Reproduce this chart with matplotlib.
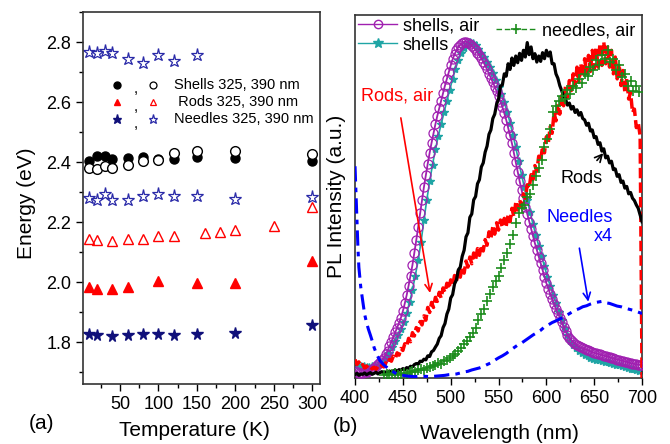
import numpy as np
import matplotlib.pyplot as plt
from matplotlib.ticker import MultipleLocator
from matplotlib.lines import Line2D

plt.rcParams['font.family'] = ['Liberation Sans', 'DejaVu Sans']

# ---------------- (a) PL peak energy vs temperature ----------------
T_shells = [10, 20, 30, 40, 60, 80, 100, 120, 150, 200, 300]
shells_325 = [2.403, 2.420, 2.420, 2.410, 2.413, 2.417, 2.410, 2.410, 2.416, 2.413, 2.405]
shells_390 = [2.381, 2.376, 2.387, 2.381, 2.389, 2.403, 2.407, 2.431, 2.437, 2.437, 2.428]

T_rods_325 = [10, 20, 40, 60, 100, 150, 200, 300]
rods_325 = [1.982, 1.978, 1.978, 1.982, 2.002, 1.996, 1.996, 2.071]
T_rods_390 = [10, 20, 40, 60, 80, 100, 120, 160, 180, 200, 250, 300]
rods_390 = [2.145, 2.141, 2.138, 2.145, 2.145, 2.155, 2.152, 2.164, 2.167, 2.175, 2.186, 2.249]

T_needles_325 = [10, 20, 40, 60, 80, 100, 120, 150, 200, 300]
needles_325 = [1.827, 1.824, 1.820, 1.822, 1.827, 1.826, 1.822, 1.826, 1.831, 1.858]
T_needles_390_hi = [10, 20, 30, 40, 60, 80, 100, 120, 150]
needles_390_hi = [2.766, 2.763, 2.770, 2.763, 2.743, 2.730, 2.756, 2.737, 2.756]
T_needles_390_lo = [10, 20, 30, 40, 60, 80, 100, 120, 150, 200, 300]
needles_390_lo = [2.281, 2.275, 2.294, 2.272, 2.272, 2.287, 2.292, 2.287, 2.287, 2.278, 2.283]

# ---------------- (b) PL spectra ----------------
# shells, air (every 2 nm, 400-700)
wl_2nm = np.arange(400, 701, 2)
shells_air = [
    0.020, 0.018, 0.015, 0.014, 0.015, 0.017, 0.019, 0.022, 0.025, 0.028,
    0.031, 0.036, 0.041, 0.047, 0.053, 0.060, 0.070, 0.081, 0.094, 0.108,
    0.122, 0.136, 0.150, 0.164, 0.180, 0.199, 0.222, 0.247, 0.275, 0.305,
    0.336, 0.372, 0.410, 0.450, 0.490, 0.530, 0.568, 0.604, 0.638, 0.670,
    0.700, 0.728, 0.755, 0.780, 0.802, 0.825, 0.848, 0.870, 0.890, 0.910,
    0.930, 0.948, 0.963, 0.975, 0.985, 0.992, 0.997, 1.000, 1.000, 0.998,
    0.994, 0.989, 0.983, 0.976, 0.968, 0.960, 0.951, 0.941, 0.930, 0.918,
    0.905, 0.893, 0.880, 0.867, 0.853, 0.838, 0.822, 0.806, 0.788, 0.768,
    0.745, 0.722, 0.698, 0.670, 0.642, 0.613, 0.586, 0.560, 0.535, 0.510,
    0.488, 0.465, 0.443, 0.422, 0.401, 0.381, 0.361, 0.341, 0.321, 0.301,
    0.282, 0.266, 0.250, 0.235, 0.220, 0.206, 0.194, 0.180, 0.166, 0.152,
    0.139, 0.128, 0.120, 0.113, 0.107, 0.102, 0.098, 0.094, 0.091, 0.089,
    0.086, 0.084, 0.082, 0.079, 0.077, 0.075, 0.073, 0.072, 0.070, 0.068,
    0.067, 0.065, 0.064, 0.062, 0.060, 0.059, 0.057, 0.055, 0.054, 0.052,
    0.051, 0.049, 0.048, 0.046, 0.044, 0.043, 0.042, 0.041, 0.040, 0.039,
    0.038]

# shells (every 3 nm, 400-700)
wl_3nm = np.arange(400, 701, 3)
shells = [
    0.040, 0.038, 0.036, 0.035, 0.034, 0.034, 0.035, 0.036, 0.040, 0.045,
    0.052, 0.062, 0.075, 0.092, 0.110, 0.128, 0.146, 0.166, 0.192, 0.225,
    0.262, 0.305, 0.350, 0.405, 0.470, 0.530, 0.585, 0.635, 0.680, 0.720,
    0.755, 0.790, 0.825, 0.858, 0.890, 0.920, 0.945, 0.966, 0.982, 0.993,
    0.999, 0.997, 0.990, 0.980, 0.968, 0.955, 0.940, 0.924, 0.907, 0.888,
    0.867, 0.845, 0.820, 0.792, 0.760, 0.724, 0.686, 0.645, 0.605, 0.567,
    0.530, 0.493, 0.458, 0.425, 0.393, 0.362, 0.332, 0.302, 0.274, 0.248,
    0.222, 0.197, 0.172, 0.150, 0.128, 0.110, 0.097, 0.088, 0.080, 0.074,
    0.069, 0.065, 0.061, 0.058, 0.055, 0.053, 0.051, 0.049, 0.047, 0.045,
    0.042, 0.040, 0.038, 0.035, 0.033, 0.031, 0.028, 0.026, 0.024, 0.022,
    0.021]

# rods (every 2 nm, 400-700)
rods = [
    0.010, 0.014, 0.008, 0.012, 0.011, 0.015, 0.010, 0.013, 0.016, 0.011,
    0.014, 0.017, 0.012, 0.016, 0.019, 0.014, 0.018, 0.016, 0.021, 0.017,
    0.020, 0.024, 0.019, 0.025, 0.023, 0.028, 0.025, 0.031, 0.029, 0.035,
    0.033, 0.040, 0.043, 0.041, 0.050, 0.049, 0.056, 0.054, 0.066, 0.064,
    0.078, 0.082, 0.092, 0.101, 0.118, 0.126, 0.150, 0.162, 0.190, 0.205,
    0.238, 0.248, 0.280, 0.292, 0.322, 0.330, 0.362, 0.380, 0.420, 0.432,
    0.478, 0.488, 0.530, 0.540, 0.578, 0.590, 0.628, 0.640, 0.672, 0.690,
    0.725, 0.738, 0.772, 0.785, 0.815, 0.830, 0.868, 0.872, 0.905, 0.898,
    0.935, 0.918, 0.952, 0.930, 0.958, 0.938, 0.966, 0.945, 0.975, 0.955,
    0.998, 0.962, 0.985, 0.950, 0.965, 0.940, 0.958, 0.942, 0.968, 0.950,
    0.975, 0.958, 0.970, 0.935, 0.935, 0.905, 0.892, 0.870, 0.855, 0.838,
    0.830, 0.812, 0.818, 0.800, 0.808, 0.790, 0.798, 0.782, 0.790, 0.772,
    0.768, 0.752, 0.758, 0.735, 0.738, 0.715, 0.718, 0.695, 0.700, 0.675,
    0.682, 0.655, 0.660, 0.640, 0.645, 0.620, 0.622, 0.600, 0.605, 0.582,
    0.586, 0.565, 0.570, 0.548, 0.552, 0.535, 0.528, 0.515, 0.505, 0.485,
    0.465]

# rods, air (every 2 nm, 400-700)
rods_air = [
    0.055, 0.040, 0.048, 0.035, 0.040, 0.030, 0.036, 0.028, 0.033, 0.027,
    0.032, 0.026, 0.034, 0.030, 0.038, 0.033, 0.045, 0.040, 0.055, 0.050,
    0.065, 0.058, 0.075, 0.068, 0.088, 0.082, 0.102, 0.095, 0.118, 0.108,
    0.135, 0.125, 0.150, 0.140, 0.168, 0.158, 0.185, 0.172, 0.210, 0.195,
    0.225, 0.210, 0.240, 0.228, 0.255, 0.238, 0.268, 0.255, 0.282, 0.265,
    0.292, 0.275, 0.305, 0.288, 0.318, 0.300, 0.330, 0.312, 0.348, 0.330,
    0.360, 0.340, 0.372, 0.352, 0.385, 0.365, 0.395, 0.378, 0.412, 0.395,
    0.435, 0.415, 0.450, 0.428, 0.462, 0.440, 0.470, 0.448, 0.475, 0.452,
    0.485, 0.465, 0.505, 0.480, 0.522, 0.500, 0.530, 0.512, 0.548, 0.535,
    0.575, 0.565, 0.605, 0.590, 0.632, 0.615, 0.660, 0.645, 0.690, 0.670,
    0.718, 0.700, 0.748, 0.728, 0.790, 0.765, 0.815, 0.785, 0.840, 0.810,
    0.868, 0.835, 0.885, 0.855, 0.905, 0.870, 0.925, 0.880, 0.935, 0.895,
    0.950, 0.905, 0.960, 0.912, 0.975, 0.920, 0.985, 0.925, 0.995, 0.930,
    1.000, 0.935, 0.990, 0.925, 0.975, 0.905, 0.955, 0.890, 0.935, 0.870,
    0.915, 0.850, 0.890, 0.830, 0.850, 0.790, 0.800, 0.745, 0.760, 0.720,
    0.000]

# needles, air (every 3 nm, 430-697)
wl_needles_air = np.arange(430, 698, 3)
needles_air = [
    0.008, 0.012, 0.009, 0.011, 0.014, 0.010, 0.013, 0.016, 0.013, 0.018,
    0.020, 0.017, 0.023, 0.026, 0.024, 0.030, 0.033, 0.036, 0.040, 0.044,
    0.042, 0.050, 0.055, 0.060, 0.066, 0.072, 0.080, 0.090, 0.100, 0.110,
    0.122, 0.135, 0.150, 0.172, 0.190, 0.205, 0.228, 0.250, 0.272, 0.290,
    0.305, 0.328, 0.350, 0.372, 0.400, 0.425, 0.460, 0.490, 0.505, 0.515,
    0.540, 0.548, 0.575, 0.600, 0.625, 0.650, 0.688, 0.712, 0.740, 0.790,
    0.810, 0.825, 0.840, 0.830, 0.858, 0.845, 0.870, 0.862, 0.890, 0.878,
    0.905, 0.898, 0.925, 0.915, 0.945, 0.930, 0.962, 0.950, 0.975, 0.940,
    0.950, 0.915, 0.930, 0.895, 0.905, 0.870, 0.885, 0.855, 0.870, 0.850]

# needles x4
wl_needles = [400, 401, 402, 403, 404, 406, 408, 410, 412, 414, 416, 418, 420, 423,
              426, 430, 434, 438, 442, 446, 450, 454, 458, 462, 466, 470, 474, 478,
              482, 486, 490, 494, 498, 502, 506, 510, 514, 518, 522, 526, 530, 534,
              538, 542, 546, 550, 554, 558, 562, 566, 570, 574, 578, 582, 586, 590,
              594, 598, 602, 606, 610, 614, 618, 622, 626, 630, 634, 638, 642, 646,
              650, 654, 658, 662, 666, 670, 674, 678, 682, 686, 690, 694, 698, 700]
needles_x4 = [0.630, 0.550, 0.470, 0.390, 0.330, 0.270, 0.230, 0.190, 0.165, 0.145,
              0.128, 0.110, 0.090, 0.068, 0.052, 0.039, 0.030, 0.022, 0.015, 0.010,
              0.008, 0.006, 0.005, 0.004, 0.005, 0.004, 0.005, 0.004, 0.005, 0.006,
              0.007, 0.008, 0.010, 0.011, 0.012, 0.015, 0.018, 0.020, 0.024, 0.027,
              0.030, 0.034, 0.040, 0.045, 0.053, 0.060, 0.066, 0.073, 0.082, 0.090,
              0.098, 0.104, 0.112, 0.120, 0.128, 0.135, 0.142, 0.152, 0.158, 0.165,
              0.170, 0.176, 0.180, 0.188, 0.195, 0.202, 0.206, 0.212, 0.215, 0.220,
              0.224, 0.226, 0.228, 0.224, 0.222, 0.218, 0.214, 0.212, 0.208, 0.205,
              0.202, 0.198, 0.194, 0.192]

fig = plt.figure(figsize=(6.7, 4.44), dpi=100)
ax1 = fig.add_axes([0.1239, 0.1351, 0.3537, 0.8378])
ax2 = fig.add_axes([0.5299, 0.1486, 0.4284, 0.8176])

navy = '#10107a'
ms = 6.5
ax1.plot(T_shells, shells_325, 'o', color='black', ms=ms, ls='none')
ax1.plot(T_shells, shells_390, 'o', mfc='white', mec='black', mew=1.0, ms=ms + 0.5, ls='none')
ax1.plot(T_rods_325, rods_325, '^', color='red', ms=ms + 0.5, ls='none')
ax1.plot(T_rods_390, rods_390, '^', mfc='none', mec='red', mew=1.0, ms=ms + 0.5, ls='none')
ax1.plot(T_needles_325, needles_325, '*', color=navy, ms=ms + 2, ls='none')
ax1.plot(T_needles_390_hi, needles_390_hi, '*', mfc='none', mec='#2a2aa8', mew=0.9, ms=ms + 3, ls='none')
ax1.plot(T_needles_390_lo, needles_390_lo, '*', mfc='none', mec='#2a2aa8', mew=0.9, ms=ms + 3, ls='none')

ax1.set_xlim(2, 310)
ax1.set_ylim(1.66, 2.9)
ax1.xaxis.set_major_locator(MultipleLocator(50))
ax1.xaxis.set_minor_locator(MultipleLocator(25))
ax1.yaxis.set_major_locator(MultipleLocator(0.2))
ax1.yaxis.set_minor_locator(MultipleLocator(0.1))
ax1.yaxis.set_major_formatter(plt.FuncFormatter(lambda v, p: '%.1f' % v))

# hand-made legend for panel (a)
rows = [('o', 'black', 'black', 'Shells 325, 390 nm', 0.804),
        ('^', 'red', 'red', ' Rods 325, 390 nm', 0.758),
        ('*', navy, '#2a2aa8', 'Needles 325, 390 nm', 0.712)]
for mk, c1, c2, lab, yy in rows:
    s = 5 if mk != '*' else 6.5
    ax1.plot([0.143], [yy], mk, color=c1, ms=s, transform=ax1.transAxes, clip_on=False)
    ax1.text(0.224, yy - 0.012, ',', transform=ax1.transAxes, ha='center', va='center', fontsize=11)
    ax1.plot([0.295], [yy], mk, mfc='white', mec=c2, mew=0.9, ms=s, transform=ax1.transAxes)
    ax1.text(0.384, yy, lab, transform=ax1.transAxes, ha='left', va='center', fontsize=10.5)

# ---------------- panel (b) ----------------
ax2.plot(wl_3nm, shells, color='#1fa5a5', marker='*', ms=6, lw=1.2, label='shells', zorder=2)
ax2.plot(wl_2nm, shells_air, color='#a020b0', marker='o', mfc='none', ms=6.5, mew=0.9, lw=1.3,
         label='shells, air', zorder=3)
ax2.plot(wl_2nm, rods_air, color='red', ls=(0, (3, 1.2)), lw=2.5, zorder=4)
ax2.plot(wl_2nm, rods, color='black', lw=2.3, zorder=5)
ax2.plot(wl_needles_air, needles_air, color='#1c8c1c', marker='+', ms=7, mew=1.2, ls='none', zorder=6)
ax2.plot(wl_needles, needles_x4, color='blue', ls=(0, (5, 2, 1.5, 2)), lw=2.2, zorder=7)

ax2.set_xlim(400, 700)
ax2.set_ylim(0, 1.08)
ax2.set_yticks([])
ax2.xaxis.set_major_locator(MultipleLocator(50))
ax2.xaxis.set_minor_locator(MultipleLocator(25))

h_sa = Line2D([], [], color='#a020b0', marker='o', mfc='none', ms=6, lw=1)
h_s = Line2D([], [], color='#1fa5a5', marker='*', ms=7, lw=1)
h_na = Line2D([], [], color='#1c8c1c', marker='+', ms=7, mew=1.2, ls=(0, (4, 2)), lw=1)
leg1 = ax2.legend([h_sa, h_s], ['shells, air', 'shells'], loc='upper left', frameon=False,
                  fontsize=13, handlelength=2.2, handletextpad=0.3, labelspacing=0.1,
                  borderaxespad=0.05, borderpad=0.1)
ax2.add_artist(leg1)
ax2.legend([h_na], ['needles, air'], loc='upper right', frameon=False, fontsize=13,
           handlelength=2.2, handletextpad=0.3, borderaxespad=0.1, borderpad=0.3)

ax2.annotate('Rods, air', xy=(478.4, 0.253), xytext=(444, 0.84), color='red', fontsize=13,
             ha='center', va='center',
             arrowprops=dict(arrowstyle='->', color='red', lw=1.2, shrinkA=8, shrinkB=0))
ax2.annotate('Rods', xy=(659.4, 0.669), xytext=(637, 0.595), color='black', fontsize=13,
             ha='center', va='center',
             arrowprops=dict(arrowstyle='->', color='black', lw=1.2, shrinkA=6, shrinkB=0))
ax2.annotate('Needles\nx4', xy=(643.8, 0.227), xytext=(669.6, 0.449), color='blue', fontsize=13,
             ha='right', va='center', multialignment='right', linespacing=1.2,
             arrowprops=dict(arrowstyle='->', color='blue', lw=1.2, shrinkA=0, shrinkB=0,
                             relpos=(0.45, 0.4)))

for ax in (ax1, ax2):
    ax.tick_params(which='both', direction='out', top=False, right=False, labelsize=13)
    ax.tick_params(which='major', length=5, width=1)
    ax.tick_params(which='minor', length=3, width=1)
    for sp in ax.spines.values():
        sp.set_color('#333333')
        sp.set_linewidth(1.2)

fig.text(27 / 670, 1 - 203 / 444, 'Energy (eV)', rotation=90, ha='center', va='center', fontsize=15)
fig.text(337 / 670, 1 - 196 / 444, 'PL Intensity (a.u.)', rotation=90, ha='center', va='center', fontsize=15)
fig.text(194 / 670, 1 - 430 / 444, 'Temperature (K)', ha='center', va='center', fontsize=15)
fig.text(499 / 670, 1 - 433 / 444, 'Wavelength (nm)', ha='center', va='center', fontsize=15)
fig.text(42 / 670, 1 - 423 / 444, '(a)', ha='center', va='center', fontsize=15)
fig.text(345 / 670, 1 - 426 / 444, '(b)', ha='center', va='center', fontsize=15)

fig.savefig('out.png', dpi=100)
